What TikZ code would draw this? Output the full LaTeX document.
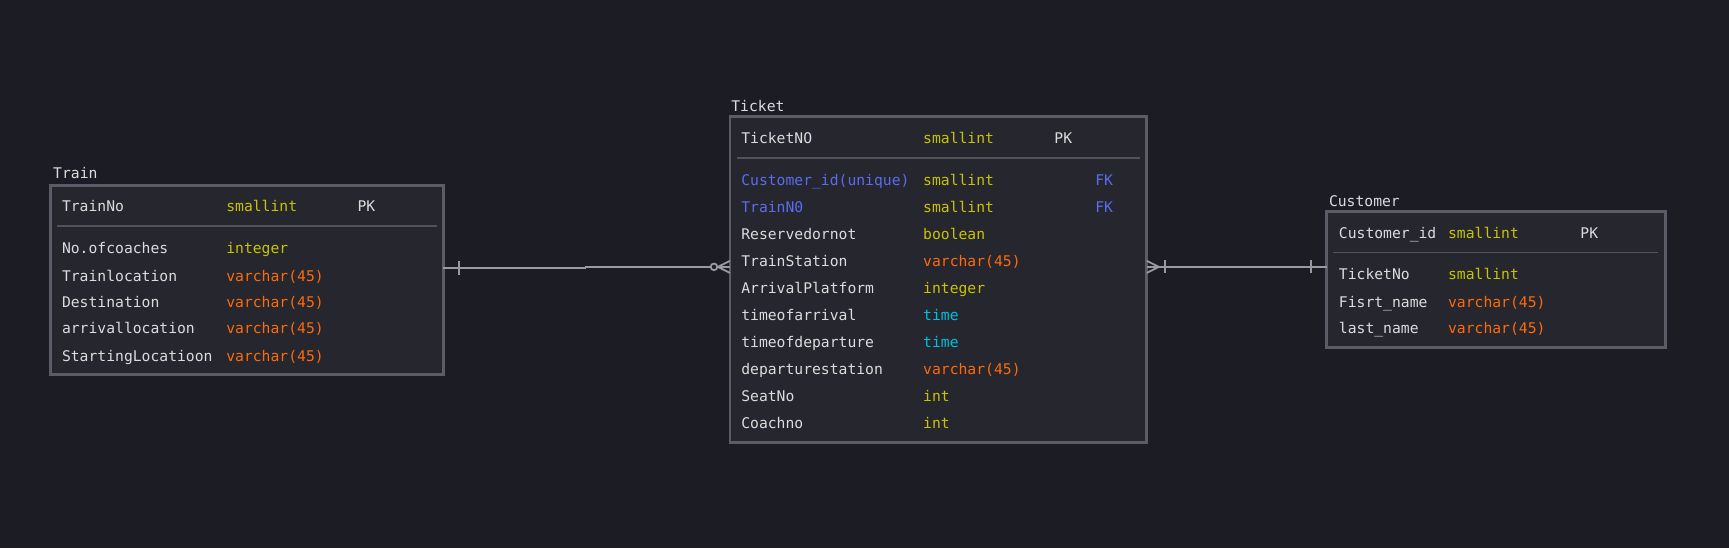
\documentclass[tikz,border=0pt]{standalone}
\usepackage{fontspec}
\setmonofont{DejaVu Sans Mono}
\usetikzlibrary{calc, fit}

\definecolor{bgcol}{HTML}{1C1C25}
\definecolor{boxcol}{HTML}{25262E}
\definecolor{edgecol}{HTML}{5C5C68}
\definecolor{rulecol}{HTML}{52525C}
\definecolor{linecol}{HTML}{9A9AA4}
\definecolor{txtcol}{HTML}{DCDCDC}
\definecolor{intcol}{HTML}{C8C400}
\definecolor{strcol}{HTML}{FF6A0A}
\definecolor{keycol}{HTML}{5A6CF0}
\definecolor{timecol}{HTML}{00C0E0}

\begin{document}
\begin{tikzpicture}[x=0.75pt, y=-0.75pt,
  tbl/.style={draw=edgecol, fill=boxcol, line width=2pt, inner sep=0pt, outer sep=0pt},
  txt/.style={anchor=mid west, inner sep=0pt, yshift=-1.5pt, font=\ttfamily\fontsize{10}{12}\selectfont, text=txtcol},
  sep/.style={draw=rulecol, line width=1.2pt},
  rel/.style={draw=linecol, line width=1.2pt}]
  \fill[bgcol] (0,0) rectangle (1568,497);
  \useasboundingbox (0,0) rectangle (1568,497);

  % Train
  \coordinate (train-nw) at (46,168);
  \coordinate (train-se) at (402,340);
  \node[tbl, fit=(train-nw)(train-se)] (train) {};
  \node[txt] (train-title) at (48,157) {Train};
  \node[txt] (tr-pk) at (56,187) {TrainNo};
  \node[txt, text=intcol] (tr-pk-t) at (205,187) {smallint};
  \node[txt] (tr-pk-k) at (324,187) {PK};
  \draw[sep] (52,205) -- (396,205);
  \node[txt] (tr-f1) at (56,225) {No.ofcoaches};
  \node[txt, text=intcol] (tr-f1-t) at (205,225) {integer};
  \node[txt] (tr-f2) at (56,250) {Trainlocation};
  \node[txt, text=strcol] (tr-f2-t) at (205,250) {varchar(45)};
  \node[txt] (tr-f3) at (56,274) {Destination};
  \node[txt, text=strcol] (tr-f3-t) at (205,274) {varchar(45)};
  \node[txt] (tr-f4) at (56,298) {arrivallocation};
  \node[txt, text=strcol] (tr-f4-t) at (205,298) {varchar(45)};
  \node[txt] (tr-f5) at (56,323) {StartingLocatioon};
  \node[txt, text=strcol] (tr-f5-t) at (205,323) {varchar(45)};

  % Ticket
  \coordinate (ticket-nw) at (662,106);
  \coordinate (ticket-se) at (1040,401);
  \node[tbl, fit=(ticket-nw)(ticket-se)] (ticket) {};
  \node[txt] (ticket-title) at (663,96) {Ticket};
  \node[txt] (ti-pk) at (672,125) {TicketNO};
  \node[txt, text=intcol] (ti-pk-t) at (837,125) {smallint};
  \node[txt] (ti-pk-k) at (956,125) {PK};
  \draw[sep] (668,143) -- (1034,143);
  \node[txt, text=keycol] (ti-f1) at (672,163) {Customer\_id(unique)};
  \node[txt, text=intcol] (ti-f1-t) at (837,163) {smallint};
  \node[txt, text=keycol] (ti-f1-k) at (993,163) {FK};
  \node[txt, text=keycol] (ti-f2) at (672,188) {TrainN0};
  \node[txt, text=intcol] (ti-f2-t) at (837,188) {smallint};
  \node[txt, text=keycol] (ti-f2-k) at (993,188) {FK};
  \node[txt] (ti-f3) at (672,212) {Reservedornot};
  \node[txt, text=intcol] (ti-f3-t) at (837,212) {boolean};
  \node[txt] (ti-f4) at (672,237) {TrainStation};
  \node[txt, text=strcol] (ti-f4-t) at (837,237) {varchar(45)};
  \node[txt] (ti-f5) at (672,261) {ArrivalPlatform};
  \node[txt, text=intcol] (ti-f5-t) at (837,261) {integer};
  \node[txt] (ti-f6) at (672,286) {timeofarrival};
  \node[txt, text=timecol] (ti-f6-t) at (837,286) {time};
  \node[txt] (ti-f7) at (672,310) {timeofdeparture};
  \node[txt, text=timecol] (ti-f7-t) at (837,310) {time};
  \node[txt] (ti-f8) at (672,335) {departurestation};
  \node[txt, text=strcol] (ti-f8-t) at (837,335) {varchar(45)};
  \node[txt] (ti-f9) at (672,359) {SeatNo};
  \node[txt, text=intcol] (ti-f9-t) at (837,359) {int};
  \node[txt] (ti-f10) at (672,384) {Coachno};
  \node[txt, text=intcol] (ti-f10-t) at (837,384) {int};

  % Customer
  \coordinate (cust-nw) at (1203,192);
  \coordinate (cust-se) at (1510,315);
  \node[tbl, fit=(cust-nw)(cust-se)] (cust) {};
  \node[txt] (cust-title) at (1205,182) {Customer};
  \node[txt] (cu-pk) at (1214,211) {Customer\_id};
  \node[txt, text=intcol] (cu-pk-t) at (1313,211) {smallint};
  \node[txt] (cu-pk-k) at (1433,211) {PK};
  \draw[sep] (1209,229) -- (1504,229);
  \node[txt] (cu-f1) at (1214,249) {TicketNo};
  \node[txt, text=intcol] (cu-f1-t) at (1313,249) {smallint};
  \node[txt] (cu-f2) at (1214,274) {Fisrt\_name};
  \node[txt, text=strcol] (cu-f2-t) at (1313,274) {varchar(45)};
  \node[txt] (cu-f3) at (1214,298) {last\_name};
  \node[txt, text=strcol] (cu-f3-t) at (1313,298) {varchar(45)};

  % Train -- Ticket
  \coordinate (tr-out) at (train.east |- 0,243);
  \coordinate (ti-in) at (ticket.west |- 0,242);
  \draw[rel] (tr-out) -- (531,243) -- (531,242) -- (ti-in);
  \draw[rel] ($(tr-out)+(14,-6)$) -- ($(tr-out)+(14,6)$);
  \draw[rel] ($(ti-in)+(-11,0)$) -- ($(ti-in)+(0,-5.5)$);
  \draw[rel] ($(ti-in)+(-11,0)$) -- ($(ti-in)+(0,5.5)$);
  \draw[rel, fill=bgcol] ($(ti-in)+(-14.5,0)$) circle (3);

  % Ticket -- Customer
  \coordinate (ti-out) at (ticket.east |- 0,242);
  \coordinate (cu-in) at (cust.west |- 0,242);
  \draw[rel] (ti-out) -- (cu-in);
  \draw[rel] ($(ti-out)+(11,0)$) -- ($(ti-out)+(0,-5.5)$);
  \draw[rel] ($(ti-out)+(11,0)$) -- ($(ti-out)+(0,5.5)$);
  \draw[rel] ($(ti-out)+(16.5,-6)$) -- ($(ti-out)+(16.5,6)$);
  \draw[rel] ($(cu-in)+(-14,-6)$) -- ($(cu-in)+(-14,6)$);
\end{tikzpicture}
\end{document}
